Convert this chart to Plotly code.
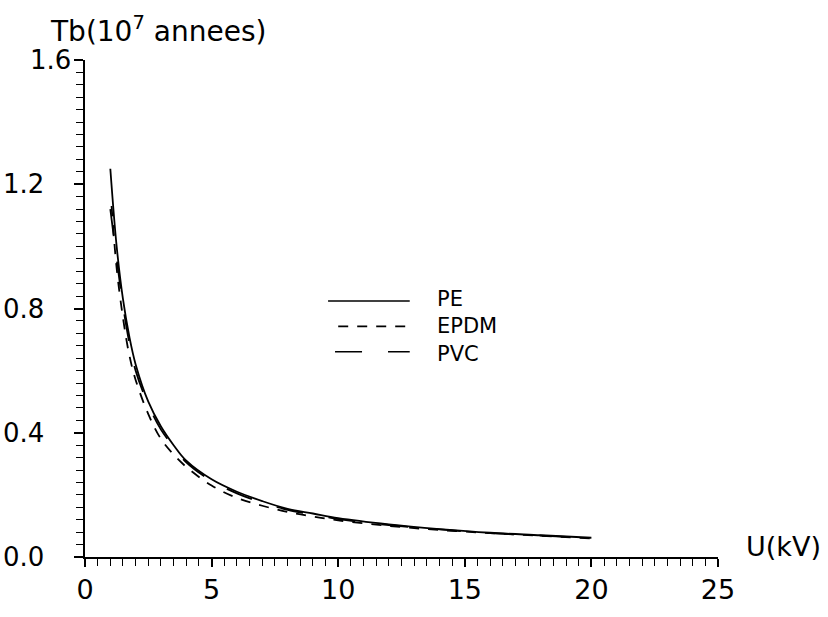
import plotly.graph_objects as go

# Breakdown time Tb (units of 1e7 years) versus applied voltage U (kV)
u_pe = [1.0, 1.25, 1.5, 1.75, 2.0, 2.5, 3.0, 3.5, 4.0, 5.0, 6.0, 7.0, 8.0, 9.0, 10.0, 12.0, 14.0, 16.0, 18.0, 20.0]
tb_pe = [1.25, 1.0, 0.83, 0.71, 0.62, 0.50, 0.42, 0.36, 0.31, 0.25, 0.21, 0.18, 0.155, 0.14, 0.125, 0.105, 0.09, 0.078, 0.07, 0.062]

u_epdm = [1.05, 1.25, 1.5, 1.75, 2.0, 2.5, 3.0, 3.5, 4.0, 5.0, 6.0, 7.0, 8.0, 9.0, 10.0, 12.0, 14.0, 16.0, 18.0, 20.0]
tb_epdm = [1.13, 0.93, 0.77, 0.65, 0.57, 0.46, 0.38, 0.33, 0.29, 0.23, 0.19, 0.165, 0.145, 0.13, 0.118, 0.10, 0.087, 0.077, 0.068, 0.06]

u_pvc = [1.0, 1.25, 1.5, 1.75, 2.0, 2.5, 3.0, 3.5, 4.0, 5.0, 6.0, 7.0, 8.0, 9.0, 10.0, 12.0, 14.0, 16.0, 18.0, 20.0]
tb_pvc = [1.12, 0.96, 0.81, 0.69, 0.60, 0.49, 0.41, 0.355, 0.305, 0.245, 0.205, 0.175, 0.152, 0.137, 0.122, 0.103, 0.089, 0.077, 0.069, 0.061]

x_ticks = [0, 5, 10, 15, 20, 25]
y_ticks = [0.0, 0.4, 0.8, 1.2, 1.6]

# name, U, Tb, dash for the curve, legend-sample span (paper x)
series = [
    ("PE", u_pe, tb_pe, "solid", (0.384, 0.513)),
    ("EPDM", u_epdm, tb_epdm, "10px,9px", (0.400, 0.510)),
    ("PVC", u_pvc, tb_pvc, "27px,26px", (0.395, 0.513)),
]

FONT = "DejaVu Sans"
fig = go.Figure()
for name, u, tb, dash, _ in series:
    fig.add_trace(go.Scatter(
        x=u, y=tb, mode="lines", name=name, line_shape="spline",
        line=dict(color="black", width=1.8, dash=dash), showlegend=False,
    ))

# Legend block drawn inside the plot area: sample lines plus one stacked label
leg_y = [0.515, 0.464, 0.413]
for (name, _, _, dash, (lx0, lx1)), ly in zip(series, leg_y):
    fig.add_shape(type="line", xref="paper", yref="paper",
                  x0=lx0, x1=lx1, y0=ly, y1=ly,
                  line=dict(color="black", width=1.6, dash=dash))
fig.add_annotation(xref="paper", yref="paper", x=0.553, y=leg_y[1],
                   text="<br>".join(s[0] for s in series), align="left",
                   showarrow=False, xanchor="left", yanchor="middle",
                   font=dict(family=FONT, size=21, color="black"))

# Y tick labels (the top one sits closer to the axis)
for v in y_ticks:
    fig.add_annotation(xref="paper", yref="y", x=-0.019 if v == 1.6 else -0.062, y=v,
                       text=f"{v:.1f}", showarrow=False, xanchor="right", yanchor="middle",
                       font=dict(family=FONT, size=26, color="black"))

fig.add_annotation(xref="paper", yref="paper", x=-0.058, y=1.061,
                   text="Tb(10<sup>7</sup> annees)", showarrow=False,
                   xanchor="left", yanchor="middle",
                   font=dict(family=FONT, size=28, color="black"))
fig.add_annotation(xref="paper", yref="paper", x=1.166, y=0.021,
                   text="U(kV)", showarrow=False,
                   xanchor="right", yanchor="middle",
                   font=dict(family=FONT, size=27, color="black"))

fig.update_layout(
    width=828, height=617,
    margin=dict(l=85, r=110, t=60, b=35),
    paper_bgcolor="white", plot_bgcolor="white",
    font=dict(family=FONT, size=26, color="black"),
)
fig.update_xaxes(
    range=[0, 25], tickvals=x_ticks, ticktext=[str(v) for v in x_ticks],
    showgrid=False, zeroline=False, showline=True, linecolor="black", linewidth=1.6,
    ticks="outside", ticklen=8, tickwidth=1.5, tickcolor="black",
    minor=dict(dtick=0.5, ticks="outside", ticklen=7, tickwidth=1.2, tickcolor="black"),
    tickfont=dict(family=FONT, size=27),
)
fig.update_yaxes(
    range=[0, 1.6], tickvals=y_ticks, showticklabels=False,
    showgrid=False, zeroline=False, showline=True, linecolor="black", linewidth=1.6,
    ticks="outside", ticklen=9, tickwidth=1.5, tickcolor="black",
    minor=dict(dtick=0.04, ticks="outside", ticklen=7, tickwidth=1.2, tickcolor="black"),
)

fig.write_html("out.html")
